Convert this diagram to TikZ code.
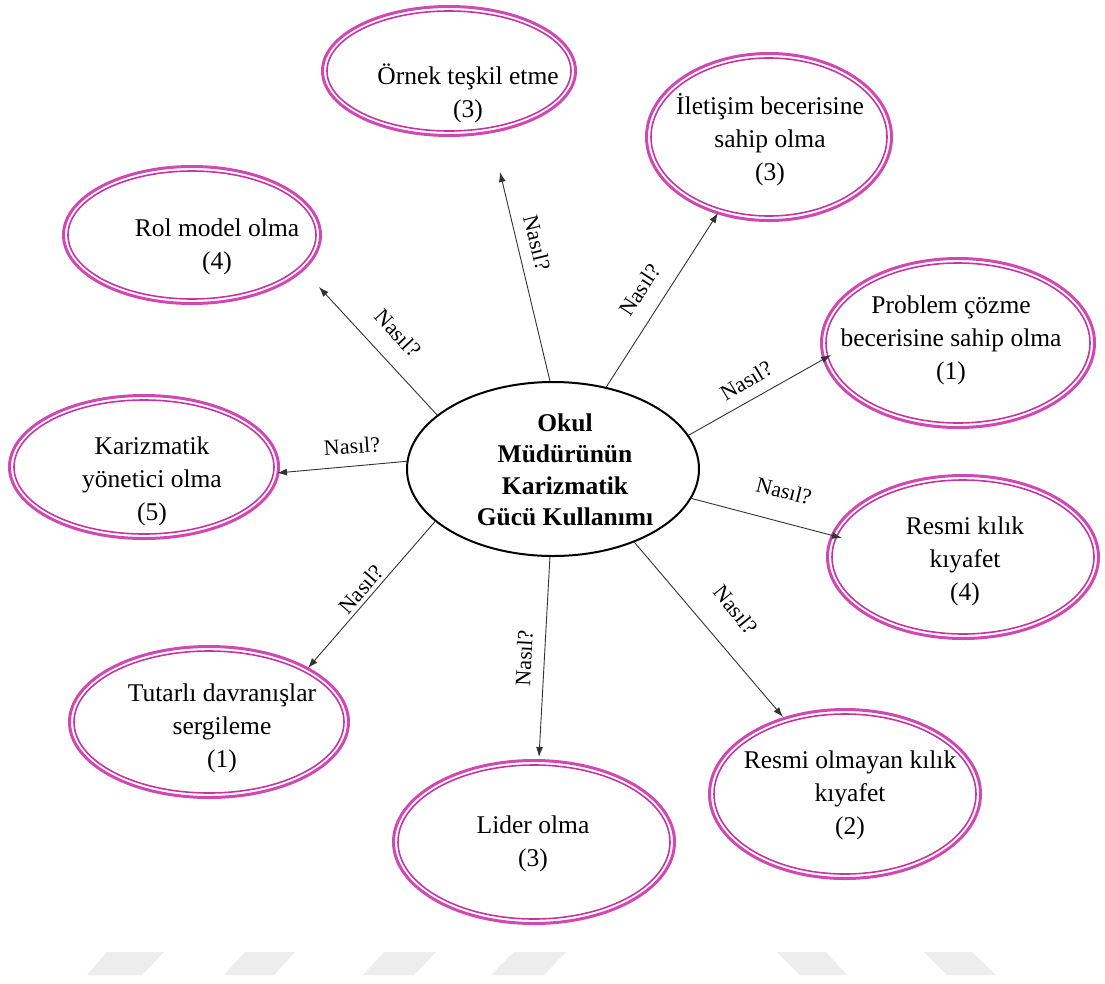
\documentclass[tikz,border=0pt]{standalone}
\usepackage{fontspec}
\setmainfont{Liberation Serif}
\usetikzlibrary{shapes.geometric,arrows.meta}
\definecolor{bubblepink}{RGB}{210,72,178}
\definecolor{bubbleinner}{RGB}{198,52,162}
\tikzset{
  outerell/.style={ellipse, draw=bubblepink, line width=3pt, inner sep=0pt},
  innerell/.style={draw=bubbleinner, line width=1.6pt},
  bubbletext/.style={align=center, font=\fontsize{25.5}{33}\selectfont, inner sep=0pt},
  hub/.style={ellipse, draw=black, line width=2pt, inner sep=0pt,
              minimum width=292pt, minimum height=174pt},
  hubtext/.style={align=center, font=\fontsize{25.5}{31.5}\selectfont\bfseries, inner sep=0pt},
  link/.style={draw=black!80, line width=0.9pt, -{Latex[length=10pt,width=7pt]}},
  ask/.style={font=\fontsize{22}{26}\selectfont, inner sep=0pt},
  wmshape/.style={fill=black!7, draw=none}
}
% double pink ellipse: name, centre x, centre y, radius x, radius y, text x, text y, text
\newcommand\bubble[8]{%
  \node[outerell, minimum width=2*#4, minimum height=2*#5] (#1) at (#2,#3) {};
  \draw[innerell] (#1.center) ellipse [x radius=#4-4.5, y radius=#5-4.5];
  \node[bubbletext] (#1t) at (#6,#7) {#8};
}
\begin{document}
\begin{tikzpicture}[x=1pt,y=-1pt]
\useasboundingbox (0,0) rectangle (1105,983);

% faint watermark bars along the bottom
\fill[wmshape] (107,952) -- (164,952) -- (142,975) -- (87,975) -- cycle;
\fill[wmshape] (245,952) -- (295,952) -- (274,975) -- (224,975) -- cycle;
\fill[wmshape] (384,952) -- (436,952) -- (414,975) -- (363,975) -- cycle;
\fill[wmshape] (514,952) -- (566,952) -- (544,975) -- (491,975) -- cycle;
\fill[wmshape] (777,952) -- (826,952) -- (847,975) -- (800,975) -- cycle;
\fill[wmshape] (924,952) -- (972,952) -- (996,975) -- (947,975) -- cycle;

% central concept
\node[hub] (hub) at (553,469) {};
\node[hubtext] (hubt) at (565,470) {Okul\\Müdürünün\\Karizmatik\\Gücü Kullanımı};

% surrounding answers
\bubble{b1}{449}{71}{126.5}{64.5}{468}{93}{Örnek teşkil etme\\(3)}
\bubble{b2}{769}{137}{122.5}{83.5}{770}{140}{İletişim becerisine\\sahip olma\\(3)}
\bubble{b3}{192}{235}{128.5}{68.5}{217}{247}{Rol model olma\\(4)}
\bubble{b4}{958}{343}{136.5}{84.5}{951}{340}{Problem çözme\\becerisine sahip olma\\(1)}
\bubble{b5}{144}{467}{134.5}{71.5}{152}{481}{Karizmatik\\yönetici olma\\(5)}
\bubble{b6}{963}{557}{135.5}{81.5}{965}{561}{Resmi kılık\\kıyafet\\(4)}
\bubble{b7}{209}{722}{139.5}{75.5}{222}{728}{Tutarlı davranışlar\\sergileme\\(1)}
\bubble{b8}{845}{794}{135.5}{84.5}{850}{795}{Resmi olmayan kılık\\kıyafet\\(2)}
\bubble{b9}{534}{842}{140.5}{81.5}{533}{844}{Lider olma\\(3)}

% arrow tips
\coordinate (tip1) at (500,172);
\coordinate (tip2) at (718,213);
\coordinate (tip3) at (319,287);
\coordinate (tip4) at (831,355);
\coordinate (tip5) at (277,473);
\coordinate (tip6) at (842,538);
\coordinate (tip7) at (308,668);
\coordinate (tip8) at (539,757);
\coordinate (tip9) at (783,717);

\draw[link] (hub.92.6) -- (tip1);
\draw[link] (hub.57.4) -- (tip2);
\draw[link] (hub.155.5) -- (tip3);
\draw[link] (hub.14.2) -- (tip4);
\draw[link] (hub.177.6) -- (tip5);
\draw[link] (hub.-12.8) -- (tip6);
\draw[link] (hub.204.2) -- (tip7);
\draw[link] (hub.268) -- (tip8);
\draw[link] (hub.318.9) -- (tip9);

% question labels along the arrows
\node[ask, rotate=-76] (q1) at (537,243) {Nasıl?};
\node[ask, rotate=57] (q2) at (640,290) {Nasıl?};
\node[ask, rotate=-47] (q3) at (398,333) {Nasıl?};
\node[ask, rotate=31] (q4) at (746,381) {Nasıl?};
\node[ask, rotate=4] (q5) at (352,446) {Nasıl?};
\node[ask, rotate=-14] (q6) at (784,491) {Nasıl?};
\node[ask, rotate=49] (q7) at (361,589) {Nasıl?};
\node[ask, rotate=87] (q8) at (524,658) {Nasıl?};
\node[ask, rotate=-51] (q9) at (736,610) {Nasıl?};
\end{tikzpicture}
\end{document}
